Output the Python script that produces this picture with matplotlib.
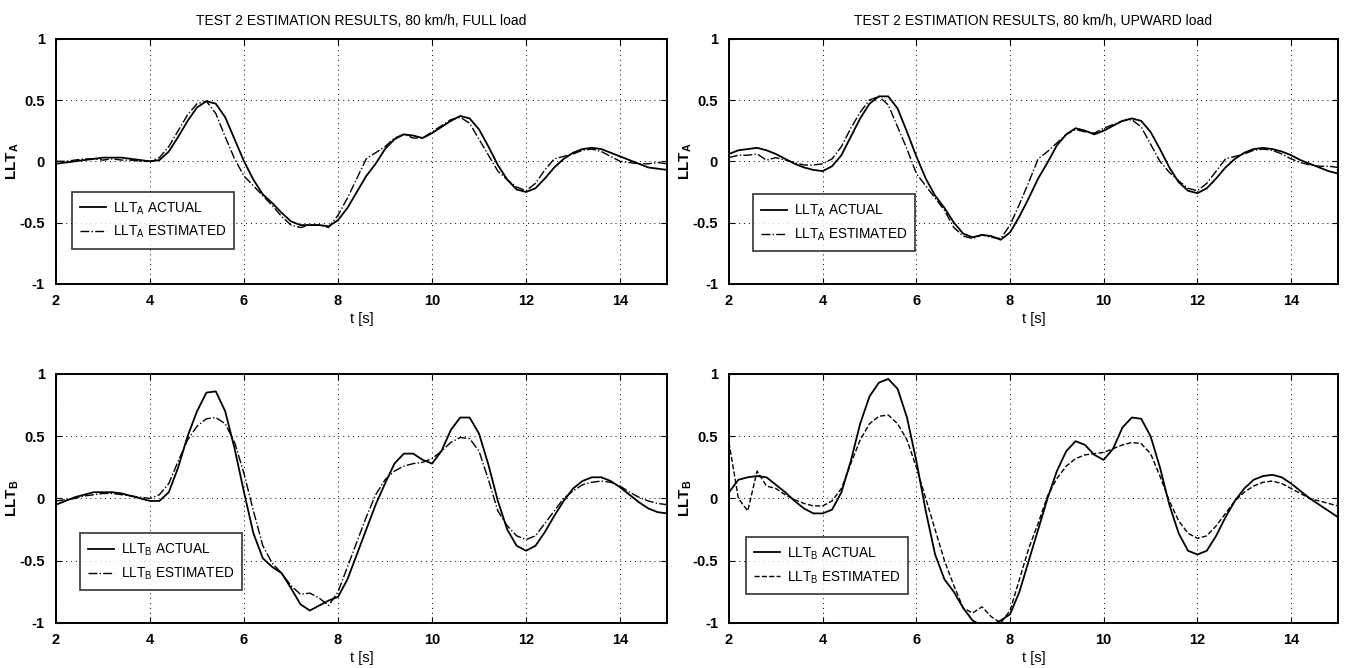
import numpy as np
import matplotlib
matplotlib.use("Agg")
import matplotlib.pyplot as plt

plt.rcParams["font.family"] = ["Liberation Sans Narrow", "Liberation Sans", "DejaVu Sans"]
plt.rcParams["mathtext.fontset"] = "custom"
plt.rcParams["mathtext.rm"] = "Liberation Sans"
plt.rcParams["mathtext.it"] = "Liberation Sans"
plt.rcParams["mathtext.bf"] = "Liberation Sans:bold"

# time grid of the read-off samples [s]
T = np.round(np.arange(2.0, 15.0001, 0.2), 1)

# top-left: LLT_A, FULL load
full_a_actual = [-0.02, -0.01, 0.0, 0.01, 0.02, 0.03, 0.03, 0.03, 0.02, 0.01,
                 0.0, 0.01, 0.08, 0.2, 0.33, 0.44, 0.49, 0.47, 0.36, 0.18,
                 0.0, -0.15, -0.27, -0.34, -0.42, -0.49, -0.52, -0.52, -0.52, -0.53,
                 -0.48, -0.38, -0.25, -0.12, -0.02, 0.1, 0.18, 0.22, 0.21, 0.19,
                 0.23, 0.28, 0.33, 0.37, 0.35, 0.26, 0.12, -0.03, -0.15, -0.23,
                 -0.25, -0.22, -0.14, -0.05, 0.02, 0.07, 0.1, 0.11, 0.1, 0.07,
                 0.04, 0.01, -0.02, -0.05, -0.06, -0.07]
full_a_est = [0.0, 0.0, 0.01, 0.02, 0.02, 0.01, 0.02, 0.01, 0.01, 0.0,
              0.0, 0.03, 0.12, 0.25, 0.38, 0.47, 0.49, 0.39, 0.2, 0.02,
              -0.12, -0.2, -0.28, -0.36, -0.45, -0.52, -0.54, -0.52, -0.52, -0.54,
              -0.44, -0.3, -0.14, 0.02, 0.07, 0.12, 0.19, 0.22, 0.19, 0.19,
              0.24, 0.29, 0.34, 0.36, 0.31, 0.18, 0.05, -0.08, -0.15, -0.21,
              -0.24, -0.18, -0.07, 0.02, 0.04, 0.06, 0.09, 0.1, 0.08, 0.04,
              0.0, -0.01, -0.02, -0.02, -0.01, -0.02]

# top-right: LLT_A, UPWARD load
up_a_actual = [0.06, 0.09, 0.1, 0.11, 0.09, 0.06, 0.02, -0.02, -0.05, -0.07,
               -0.08, -0.04, 0.05, 0.2, 0.35, 0.47, 0.53, 0.53, 0.43, 0.24,
               0.04, -0.14, -0.28, -0.38, -0.5, -0.59, -0.62, -0.6, -0.61, -0.64,
               -0.58, -0.45, -0.3, -0.14, -0.01, 0.13, 0.22, 0.27, 0.25, 0.22,
               0.25, 0.29, 0.33, 0.35, 0.33, 0.24, 0.1, -0.05, -0.17, -0.24,
               -0.26, -0.22, -0.14, -0.05, 0.02, 0.07, 0.1, 0.11, 0.1, 0.08,
               0.05, 0.01, -0.02, -0.05, -0.08, -0.1]
up_a_est = [0.03, 0.05, 0.05, 0.06, 0.01, 0.03, 0.01, -0.01, -0.03, -0.03,
            -0.02, 0.02, 0.12, 0.27, 0.4, 0.5, 0.53, 0.46, 0.28, 0.1,
            -0.1, -0.2, -0.3, -0.4, -0.54, -0.61, -0.63, -0.6, -0.62, -0.63,
            -0.52, -0.35, -0.17, 0.02, 0.08, 0.15, 0.22, 0.26, 0.24, 0.23,
            0.27, 0.3, 0.33, 0.34, 0.28, 0.14, 0.0, -0.09, -0.16, -0.22,
            -0.24, -0.18, -0.08, 0.02, 0.04, 0.06, 0.09, 0.1, 0.09, 0.06,
            0.02, -0.01, -0.03, -0.04, -0.04, -0.05]

# bottom-left: LLT_B, FULL load
full_b_actual = [-0.05, -0.02, 0.01, 0.03, 0.05, 0.05, 0.05, 0.04, 0.02, 0.0,
                 -0.02, -0.02, 0.05, 0.25, 0.5, 0.7, 0.85, 0.86, 0.7, 0.4,
                 0.05, -0.28, -0.48, -0.55, -0.6, -0.72, -0.85, -0.9, -0.86, -0.82,
                 -0.79, -0.65, -0.45, -0.25, -0.05, 0.12, 0.28, 0.36, 0.36, 0.31,
                 0.28, 0.38, 0.55, 0.65, 0.65, 0.52, 0.27, -0.02, -0.25, -0.38,
                 -0.42, -0.38, -0.27, -0.14, -0.02, 0.08, 0.14, 0.17, 0.17, 0.14,
                 0.09, 0.03, -0.03, -0.08, -0.11, -0.12]
full_b_est = [-0.02, -0.01, 0.0, 0.02, 0.03, 0.04, 0.04, 0.03, 0.02, 0.01,
              0.0, 0.03, 0.12, 0.3, 0.47, 0.58, 0.64, 0.65, 0.6, 0.45,
              0.2, -0.1, -0.38, -0.52, -0.6, -0.7, -0.77, -0.76, -0.8, -0.86,
              -0.75, -0.55, -0.35, -0.15, 0.03, 0.15, 0.22, 0.26, 0.28, 0.29,
              0.32, 0.38, 0.45, 0.49, 0.48, 0.38, 0.15, -0.1, -0.22, -0.3,
              -0.33, -0.3, -0.2, -0.1, 0.0, 0.06, 0.11, 0.13, 0.14, 0.13,
              0.1, 0.05, 0.01, -0.02, -0.04, -0.05]

# bottom-right: LLT_B, UPWARD load
up_b_actual = [0.05, 0.15, 0.17, 0.18, 0.17, 0.11, 0.05, -0.02, -0.08, -0.12,
               -0.12, -0.09, 0.05, 0.3, 0.6, 0.82, 0.93, 0.96, 0.88, 0.65,
               0.3, -0.1, -0.45, -0.65, -0.75, -0.88, -0.98, -1.02, -1.02, -0.98,
               -0.93, -0.75, -0.5, -0.25, 0.0, 0.22, 0.38, 0.46, 0.43, 0.35,
               0.31, 0.4, 0.57, 0.65, 0.64, 0.5, 0.25, -0.05, -0.28, -0.42,
               -0.45, -0.42, -0.3, -0.15, -0.02, 0.08, 0.15, 0.18, 0.19, 0.17,
               0.12, 0.06, 0.0, -0.05, -0.1, -0.15]
up_b_est = [0.45, 0.0, -0.1, 0.22, 0.1, 0.08, 0.03, -0.01, -0.04, -0.06,
            -0.06, -0.02, 0.08, 0.28, 0.47, 0.6, 0.66, 0.67, 0.6, 0.47,
            0.25, 0.0, -0.25, -0.5, -0.7, -0.88, -0.92, -0.87, -0.95, -1.0,
            -0.9, -0.65, -0.4, -0.2, 0.02, 0.16, 0.26, 0.32, 0.35, 0.36,
            0.37, 0.4, 0.43, 0.45, 0.44, 0.36, 0.18, -0.02, -0.18, -0.28,
            -0.32, -0.3, -0.22, -0.12, -0.02, 0.05, 0.1, 0.13, 0.14, 0.12,
            0.08, 0.04, 0.0, -0.02, -0.04, -0.06]

panels = [
    # axes rect, actual, estimated, subscript, title, est style, legend anchor
    ([0.0415, 0.575, 0.453, 0.367], full_a_actual, full_a_est, "A",
     "TEST 2 ESTIMATION RESULTS, 80 km/h, FULL load", "-.", (0.026, 0.375)),
    ([0.5404, 0.575, 0.4514, 0.367], up_a_actual, up_a_est, "A",
     "TEST 2 ESTIMATION RESULTS, 80 km/h, UPWARD load", "-.", (0.039, 0.365)),
    ([0.0415, 0.0674, 0.453, 0.3728], full_b_actual, full_b_est, "B",
     None, "-.", (0.039, 0.36)),
    ([0.5404, 0.0674, 0.4514, 0.3728], up_b_actual, up_b_est, "B",
     None, "--", (0.028, 0.345)),
]

fig = plt.figure(figsize=(13.49, 6.68), dpi=100)

for rect, act, est, sub, title, est_ls, anchor in panels:
    ax = fig.add_axes(rect)
    ax.plot(T, act, color="black", lw=1.3, ls="-", solid_joinstyle="round",
            label=rf"LLT$_{sub}$ ACTUAL")
    ax.plot(T, est, color="black", lw=1.0, ls=est_ls, dash_joinstyle="round",
            label=rf"LLT$_{sub}$ ESTIMATED")
    ax.set_xlim(2, 15)
    ax.set_ylim(-1, 1)
    ax.set_xticks([2, 4, 6, 8, 10, 12, 14])
    ax.set_yticks([-1, -0.5, 0, 0.5, 1])
    ax.set_yticklabels(["-1", "-0.5", "0", "0.5", "1"])
    ax.grid(True, color="black", ls=(0, (1, 4)), lw=0.7)
    ax.tick_params(direction="in", length=4, top=True, right=True,
                   labelsize=10.5, width=0.8)
    ax.tick_params(axis="x", pad=7)
    ax.tick_params(axis="y", pad=8)
    for lab in ax.get_xticklabels() + ax.get_yticklabels():
        lab.set_fontweight("bold")
    for sp in ax.spines.values():
        sp.set_linewidth(1.4)
    ax.set_xlabel("t [s]", fontsize=10.5, labelpad=3)
    ax.set_ylabel(rf"$\mathbf{{LLT_{sub}}}$", fontsize=11, labelpad=-1)
    if title:
        ax.set_title(title, fontsize=10, pad=10)
    leg = ax.legend(loc="upper left", bbox_to_anchor=anchor, borderaxespad=0,
                    fontsize=9.8, frameon=True, fancybox=False, edgecolor="black",
                    handlelength=1.9, borderpad=0.6, labelspacing=0.55,
                    handletextpad=0.5)
    leg.get_frame().set_linewidth(1.2)

fig.savefig("out.png", dpi=100)
